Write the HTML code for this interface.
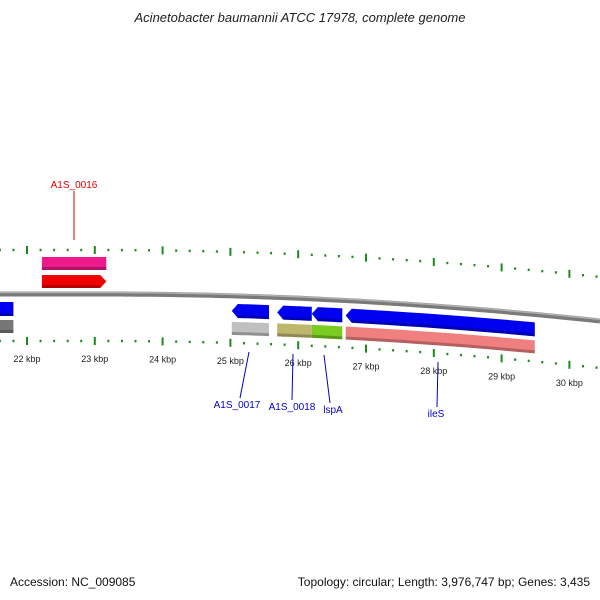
<!DOCTYPE html>
<html><head><meta charset="utf-8"><style>
body{margin:0;background:#fff}
svg{display:block;font-family:"Liberation Sans","DejaVu Sans",sans-serif}
</style></head><body>
<svg id="c" width="600" height="600" viewBox="0 0 600 600">
<text x="300" y="22" text-anchor="middle" font-size="13" font-style="italic" fill="#222">Acinetobacter baumannii ATCC 17978, complete genome</text>
<g id="ticks"></g>
<g id="genes"></g>
<g id="labels"></g>
<text x="10" y="586" font-size="12" fill="#111">Accession: NC_009085</text>
<text x="590" y="586" font-size="12" fill="#111" text-anchor="end">Topology: circular; Length: 3,976,747 bp; Genes: 3,435</text>
</svg>
<script>
const tickKbp=[22,23,24,25,26,27,28,29,30];
const tickLabels=["22 kbp","23 kbp","24 kbp","25 kbp","26 kbp","27 kbp","28 kbp","29 kbp","30 kbp"];
const geneNames=["A1S_0016","A1S_0016","left-a","left-b","A1S_0017","A1S_0017","A1S_0018","A1S_0018","lspA","lspA","ileS","ileS"];
const geneStart=[22.22,22.22,21.5,21.5,25.02,25.02,25.69,25.69,26.2,26.2,26.7,26.7];
const geneEnd=[23.17,23.17,21.8,21.8,25.57,25.57,26.2,26.2,26.65,26.65,29.49,29.49];
const geneTrack=[-2,-1,1,2,1,2,1,2,1,2,1,2];
const geneArrow=[0,1,0,0,-1,0,-1,0,-1,0,-1,0];
const geneColor=["#ee1a8c","#f00000","#0000f0","#777777","#0000f0","#c0c0c0","#0000f0","#bdb76b","#0000f0","#7acc20","#0000f0","#f08080"];
const labelNames=["A1S_0016","A1S_0017","A1S_0018","lspA","ileS"];
const labelColor=["#e00000","#0000cc","#0000cc","#0000cc","#0000cc"];
const labelX=[74,237,292,333,436];const labelY=[188,408,410,413,417];
const labelFrom=[[74,191,74,240],[249,352,240,398],[293,354,292,400],[324,355,330,403],[438,362,437,407]];

const NS="http://www.w3.org/2000/svg";
const svg=document.getElementById('c');
function X(k){return 27+(k-22)*67.8;}
function B(x){return 294+(x>100?0.000108*(x-100)*(x-100):0);}
function mk(tag,attrs,parent){const e=document.createElementNS(NS,tag);for(const k in attrs)e.setAttribute(k,attrs[k]);parent.appendChild(e);return e;}
// backbone
let d="";for(let x=0;x<=600;x+=10){d+=(x?"L":"M")+x+","+B(x).toFixed(1);}
const bb=mk('path',{d:d,stroke:'#7a7a7a','stroke-width':5,fill:'none'},svg);


const bh=mk('path',{d:d,stroke:'#b0b0b0','stroke-width':1.5,fill:'none',transform:'translate(0,-1.5)'},svg);


// ticks
const tg=document.getElementById('ticks');
for(let i=-10;i<=50;i++){const k=22+i*0.2;const x=X(k);if(x<-2||x>602)continue;
 const major=i%5===0;
 for(const off of [-44,47]){const y=B(x)+off;
  const t=mk('line',{x1:x,x2:x,y1:major?y-4:y-1.2,y2:major?y+4:y+1.2,stroke:'#1a8a1a','stroke-width':2},tg);
  
  }}
tickKbp.forEach((k,i)=>{const x=X(k);const t=mk('text',{x:x,y:B(x)+68,'font-size':9,'text-anchor':'middle',fill:'#222'},tg);t.textContent=tickLabels[i];
 
 });
// genes
const gg=document.getElementById('genes');
const trackOff={"-2":[-37,-24],"-1":[-19,-6],"1":[8,22],"2":[26,39]};
geneStart.forEach((s,i)=>{const x1=X(s),x2=X(geneEnd[i]);const [a,b]=trackOff[geneTrack[i]];
 const ah=6;let top=[],bot=[];
 const xa=geneArrow[i]<0?x1+ah:x1, xb=geneArrow[i]>0?x2-ah:x2;
 for(let t=0;t<=10;t++){const x=xa+(xb-xa)*t/10;top.push([x,B(x)+a]);bot.push([x,B(x)+b]);}
 let pts=[];
 if(geneArrow[i]<0)pts.push([x1,B(x1)+(a+b)/2]);
 pts=pts.concat(top);
 if(geneArrow[i]>0)pts.push([x2,B(x2)+(a+b)/2]);
 pts=pts.concat(bot.reverse());
 const p=mk('polygon',{points:pts.map(q=>q[0].toFixed(1)+","+q[1].toFixed(1)).join(" "),fill:geneColor[i]},gg);
 
 
 const sh=mk('polygon',{points:bot.slice().reverse().map(q=>q[0].toFixed(1)+","+q[1].toFixed(1)).join(" ")+" "+bot.map(q=>q[0].toFixed(1)+","+(q[1]-3).toFixed(1)).join(" "),fill:'#000','fill-opacity':0.25},gg);
 
 
});
// labels
const lg=document.getElementById('labels');
labelNames.forEach((n,i)=>{const f=labelFrom[i];
 const l=mk('line',{x1:f[0],y1:f[1],x2:f[2],y2:f[3],stroke:labelColor[i],'stroke-width':1},lg);
 
 
 const t=mk('text',{x:labelX[i],y:labelY[i],'font-size':10,'text-anchor':'middle',fill:labelColor[i]},lg);t.textContent=n;
 
 });
</script>
</body></html>
